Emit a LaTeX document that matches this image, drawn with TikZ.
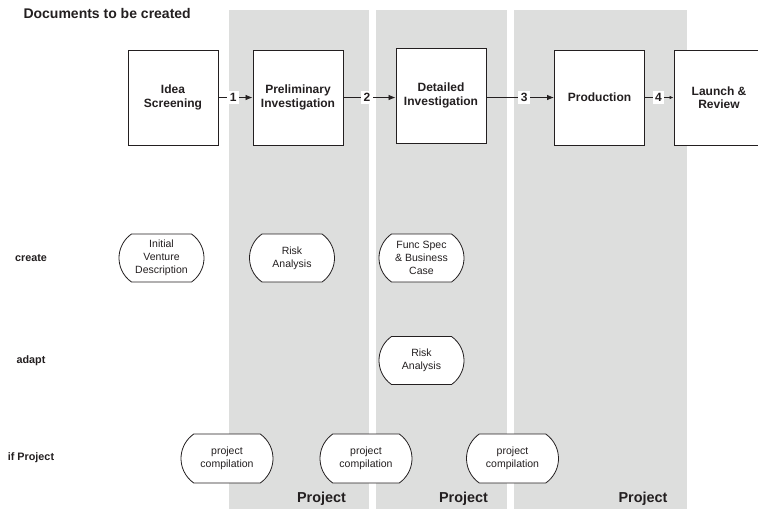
\documentclass[tikz,border=0pt]{standalone}
\usepackage{fontspec}
\setmainfont{Liberation Sans}
\usetikzlibrary{arrows.meta,shapes.misc}
\definecolor{bandgray}{RGB}{221,222,221}
\definecolor{inkgray}{RGB}{35,31,32}

\begin{document}
\begin{tikzpicture}[x=1pt,y=-1pt,
  band/.style={fill=bandgray,draw=none},
  stagebox/.style={draw=inkgray,line width=0.9pt,fill=white,minimum width=90pt,
    minimum height=95pt,inner sep=0pt,align=center,text=inkgray,
    font=\fontsize{12}{13.5}\selectfont\bfseries},
  docnode/.style={rounded rectangle,rounded rectangle arc length=110,draw=inkgray,
    line width=0.8pt,fill=white,minimum width=85pt,minimum height=48pt,inner sep=0pt,
    align=center,text=inkgray,font=\fontsize{10.5}{13}\selectfont},
  compnode/.style={docnode,minimum width=92pt,minimum height=49pt},
  rowlabel/.style={text=inkgray,font=\fontsize{10.8}{13}\selectfont\bfseries},
  bandlabel/.style={anchor=base,text=inkgray,font=\fontsize{14.4}{16}\selectfont\bfseries},
  flow/.style={draw=inkgray,line width=0.8pt,-{Latex[length=7pt,width=5.5pt]}},
  num/.style={fill=white,inner sep=2.5pt,text=inkgray,font=\fontsize{12}{13}\selectfont\bfseries}]

\useasboundingbox (0,0) rectangle (758,509);
\clip (0,0) rectangle (758,509);

% project phases in the background
\fill[band] (229,10) rectangle (369,509);
\fill[band] (376,10) rectangle (507,509);
\fill[band] (514,10) rectangle (687,509);

% heading
\node[anchor=base west,text=inkgray,font=\fontsize{14}{16}\selectfont\bfseries]
  (title) at (20,18.5) {Documents to be created};

% stages
\node[stagebox] (idea)     at (173,97.5)   {Idea\\Screening};
\node[stagebox] (prelim)   at (298,97.5)   {Preliminary\\Investigation};
\node[stagebox] (detailed) at (441,95.5)   {Detailed\\Investigation};
\node[stagebox] (prod)     at (599.5,97.5) {Production};
\node[stagebox] (launch)   at (719,97.5)   {Launch \&\\Review};

% gates between stages
\draw[flow] (idea.east) -- node[num,pos=0.43] {1} (prelim.west);
\draw[flow] (prelim.east) -- node[num,pos=0.45] {2} (prelim.east -| detailed.west);
\draw[flow] (prod.west -| detailed.east) -- node[num,pos=0.56] {3} (prod.west);
\draw[draw=inkgray,line width=0.8pt,-{Latex[length=4pt,width=3.5pt]}]
  (prod.east) -- node[num,pos=0.47] {4} (launch.west);

% row captions
\node[rowlabel] (create) at (31,258)   {create};
\node[rowlabel] (adapt)  at (31,360.5) {adapt};
\node[rowlabel] (ifproj) at (31,458)   {if Project};

% documents
\node[docnode] (ivd) at (161.5,258)   {Initial\\Venture\\Description};
\node[docnode] (ra1) at (292,258)     {Risk\\Analysis};
\node[docnode] (fs)  at (421.5,258)   {Func Spec\\\& Business\\Case};
\node[docnode] (ra2) at (421.5,360.5) {Risk\\Analysis};

\node[compnode] (pc1) at (227,458.5)   {project\\compilation};
\node[compnode] (pc2) at (366,458.5)   {project\\compilation};
\node[compnode] (pc3) at (512.5,458.5) {project\\compilation};

% phase captions
\node[bandlabel] (p1) at (321.5,502.5) {Project};
\node[bandlabel] (p2) at (463.5,502.5) {Project};
\node[bandlabel] (p3) at (643,502.5)   {Project};
\end{tikzpicture}
\end{document}
